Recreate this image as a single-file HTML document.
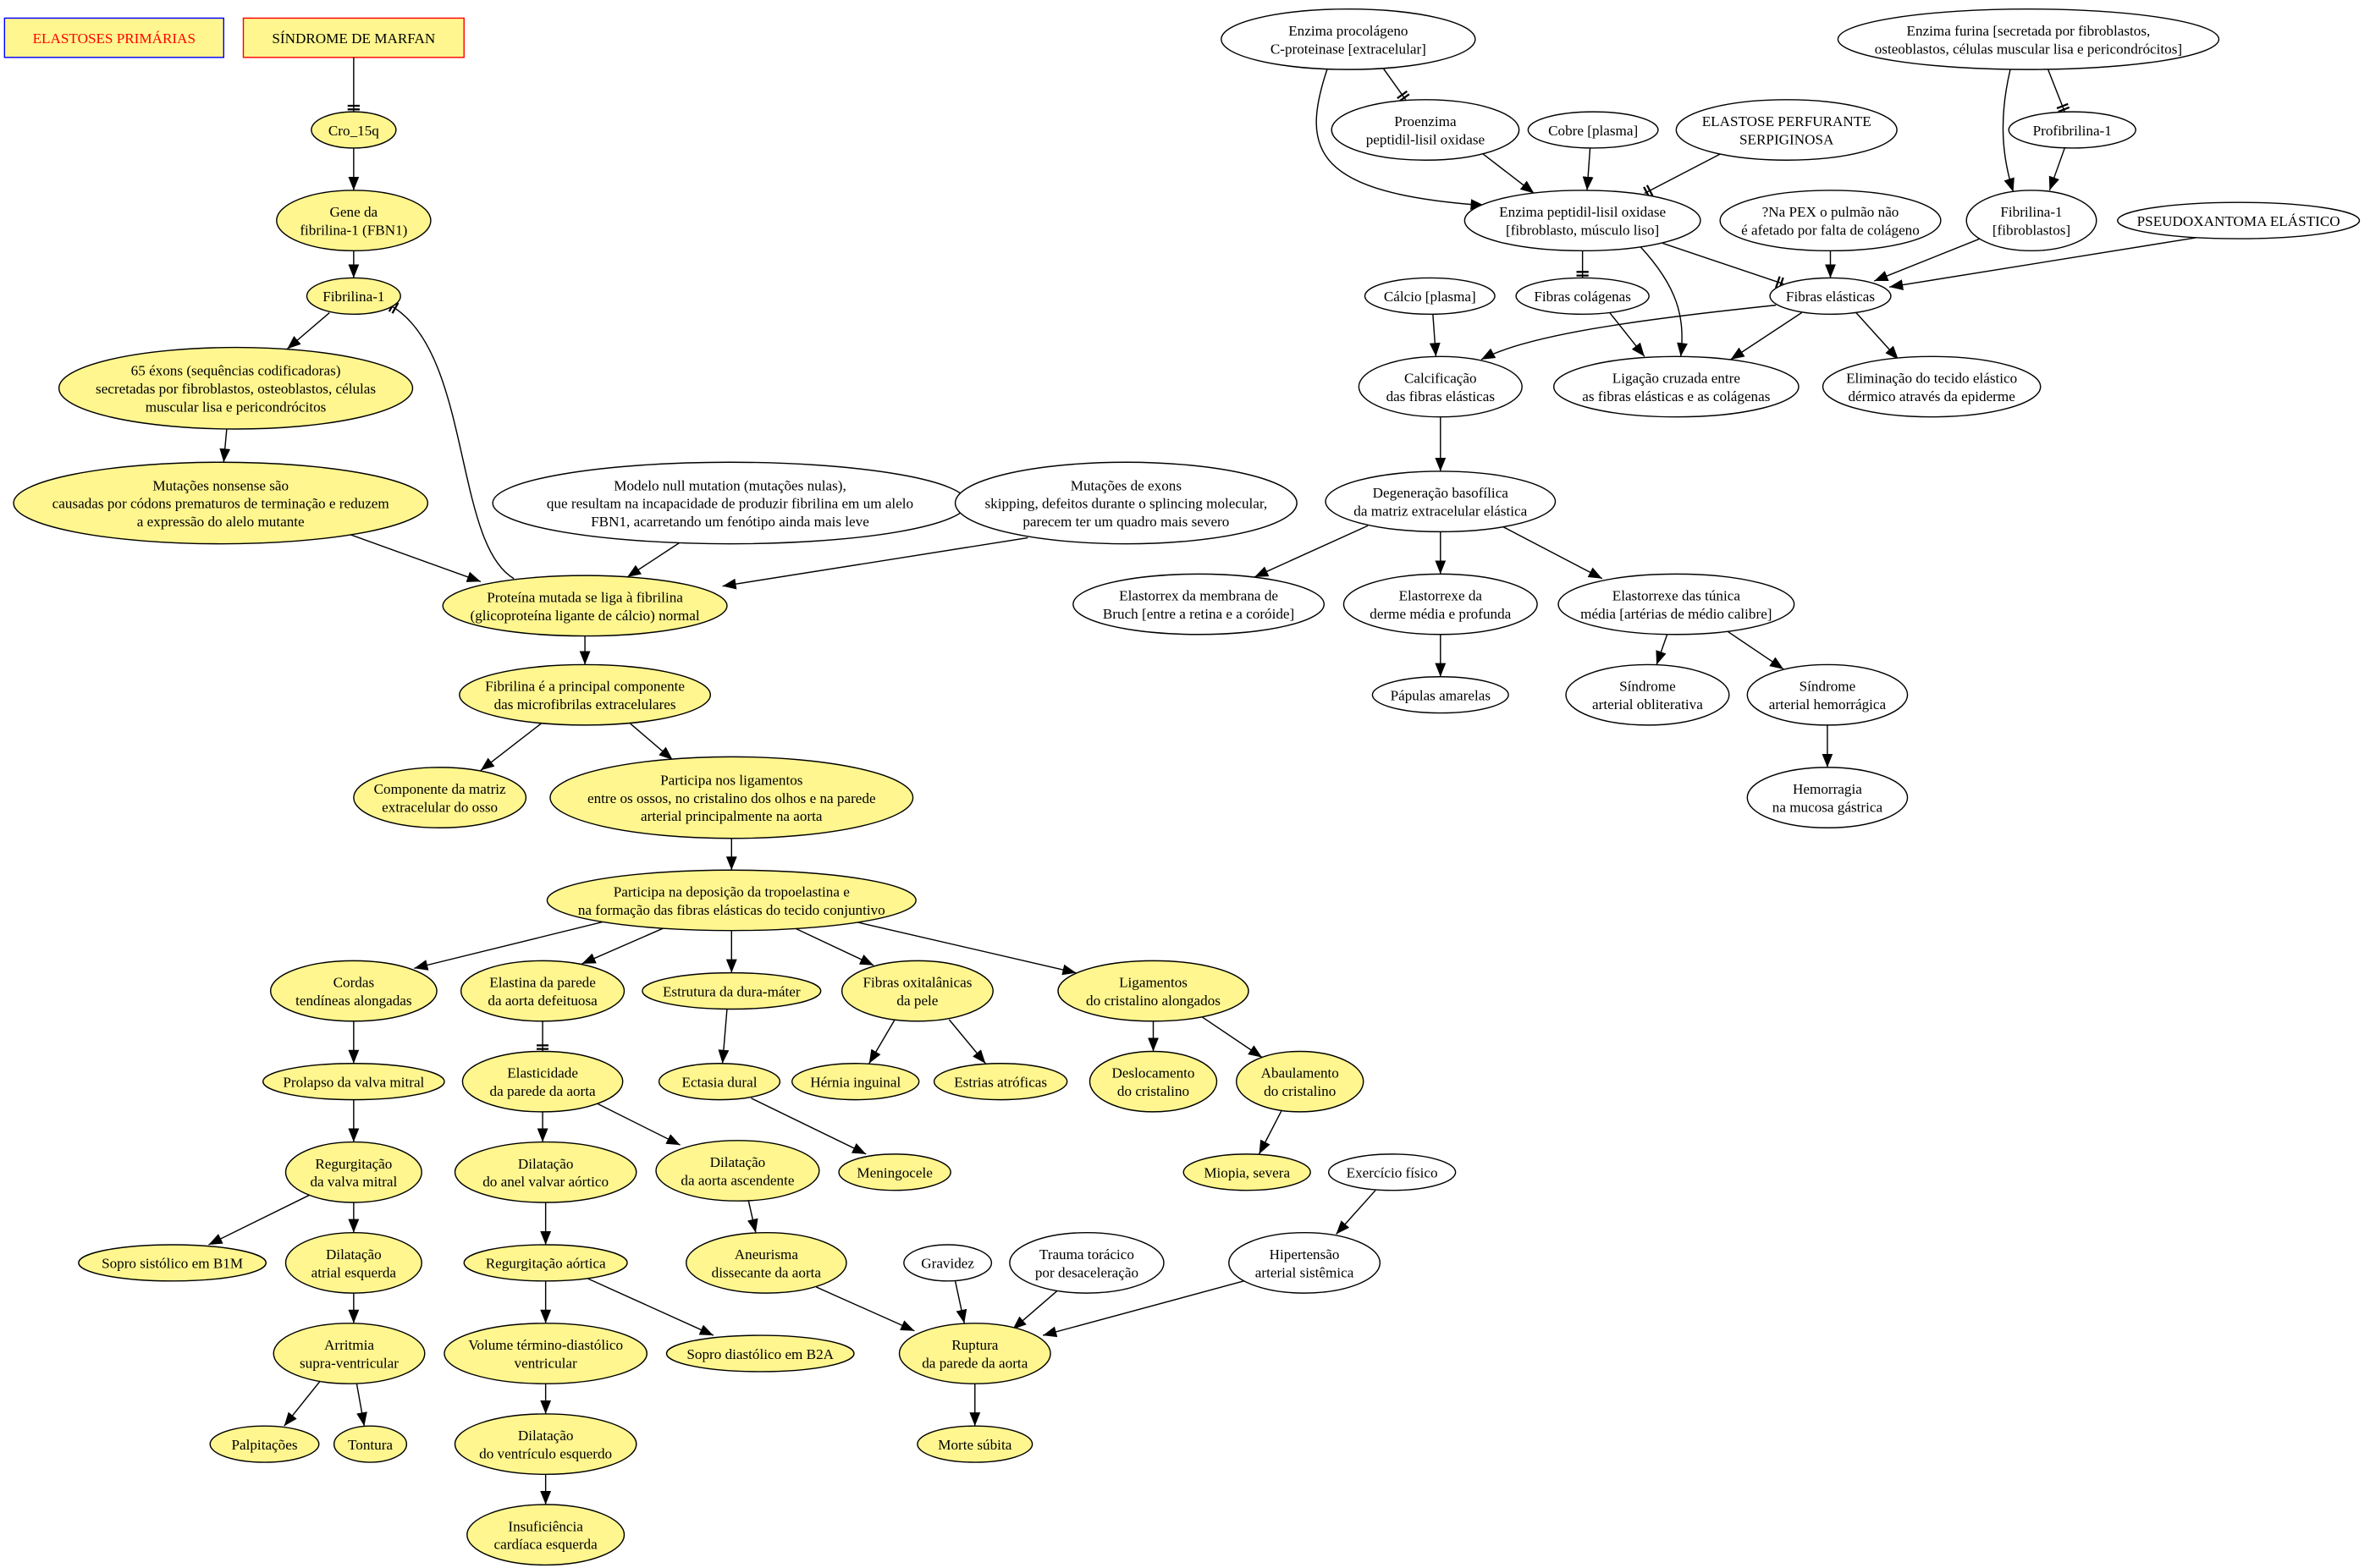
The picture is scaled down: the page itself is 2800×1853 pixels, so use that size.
<!DOCTYPE html>
<html><head><meta charset="utf-8"><style>
html,body{margin:0;padding:0;background:#fff;}
svg{display:block;}
text{font-family:"Liberation Serif",serif;font-size:9.6px;fill:#000;text-anchor:middle;}
.y{fill:#fff68f;stroke:#000;stroke-width:0.8;}
.w{fill:#fff;stroke:#000;stroke-width:0.8;}
.e{fill:none;stroke:#000;stroke-width:0.8;}
.a{marker-end:url(#arr);}
.t{marker-end:url(#tee);}
</style></head><body>
<svg width="2800" height="1853" viewBox="0 0 1568 1038" preserveAspectRatio="none" xmlns="http://www.w3.org/2000/svg">
<defs>
<marker id="arr" viewBox="0 0 10 10" refX="10" refY="5" markerWidth="9" markerHeight="9" markerUnits="userSpaceOnUse" orient="auto"><path d="M0,1 L10,5 L0,9 z" fill="#000"/></marker>
<marker id="tee" viewBox="0 0 10 10" refX="10" refY="5" markerWidth="8" markerHeight="8" markerUnits="userSpaceOnUse" orient="auto"><path d="M5,0 V10 M8,0 V10" stroke="#000" stroke-width="1.6" fill="none"/></marker>
</defs>

<rect x="3" y="12" width="145" height="26" fill="#fff68f" stroke="#0000ff" stroke-width="0.8"/>
<text x="75.5" y="28.5" style="fill:#ff0000">ELASTOSES PRIMÁRIAS</text>
<rect x="161" y="12" width="146" height="26" fill="#fff68f" stroke="#ff0000" stroke-width="0.8"/>
<text x="234" y="28.5">SÍNDROME DE MARFAN</text>

<g class="e">
<line class="t" x1="234" y1="38" x2="234" y2="74"/>
<line class="a" x1="234" y1="98" x2="234" y2="126"/>
<line class="a" x1="234" y1="166" x2="234" y2="184"/>
<line class="a" x1="218" y1="207" x2="190" y2="231"/>
<line class="a" x1="150" y1="284" x2="148" y2="306"/>
<line class="a" x1="232" y1="354" x2="318" y2="385"/>
<line class="a" x1="450" y1="359" x2="415" y2="382"/>
<line class="a" x1="680" y1="356" x2="478" y2="388"/>
<path class="t" d="M340,383 C300,360 312,232 258,202"/>
<line class="a" x1="387" y1="421" x2="387" y2="440"/>
<line class="a" x1="358" y1="479" x2="318" y2="510"/>
<line class="a" x1="417" y1="479" x2="445" y2="503"/>
<line class="a" x1="484" y1="555" x2="484" y2="576"/>
<line class="a" x1="400" y1="610" x2="274" y2="641"/>
<line class="a" x1="440" y1="614" x2="385" y2="638"/>
<line class="a" x1="484" y1="616" x2="484" y2="644"/>
<line class="a" x1="525" y1="614" x2="578" y2="639"/>
<line class="a" x1="565" y1="610" x2="712" y2="644"/>
<line class="a" x1="234" y1="676" x2="234" y2="704"/>
<line class="t" x1="359" y1="676" x2="359" y2="696"/>
<line class="a" x1="481" y1="668" x2="478" y2="704"/>
<line class="a" x1="592" y1="675" x2="575" y2="704"/>
<line class="a" x1="628" y1="675" x2="652" y2="704"/>
<line class="a" x1="763" y1="676" x2="763" y2="696"/>
<line class="a" x1="795" y1="673" x2="835" y2="700"/>
<line class="a" x1="234" y1="728" x2="234" y2="756"/>
<line class="a" x1="359" y1="736" x2="359" y2="756"/>
<line class="a" x1="394" y1="730" x2="450" y2="758"/>
<line class="a" x1="497" y1="727" x2="573" y2="764"/>
<line class="a" x1="848" y1="735" x2="833" y2="764"/>
<line class="a" x1="205" y1="791" x2="138" y2="824"/>
<line class="a" x1="234" y1="796" x2="234" y2="816"/>
<line class="a" x1="361" y1="796" x2="361" y2="824"/>
<line class="a" x1="495" y1="794" x2="500" y2="816"/>
<line class="a" x1="234" y1="856" x2="234" y2="876"/>
<line class="a" x1="361" y1="848" x2="361" y2="876"/>
<line class="a" x1="388" y1="846" x2="472" y2="884"/>
<line class="a" x1="540" y1="852" x2="605" y2="881"/>
<line class="a" x1="632" y1="848" x2="638" y2="876"/>
<line class="a" x1="700" y1="854" x2="670" y2="880"/>
<line class="a" x1="823" y1="848" x2="690" y2="884"/>
<line class="a" x1="910" y1="788" x2="884" y2="817"/>
<line class="a" x1="212" y1="914" x2="188" y2="944"/>
<line class="a" x1="236" y1="916" x2="241" y2="944"/>
<line class="a" x1="361" y1="916" x2="361" y2="936"/>
<line class="a" x1="645" y1="916" x2="645" y2="944"/>
<line class="a" x1="361" y1="976" x2="361" y2="996"/>

<line class="t" x1="915" y1="45" x2="930" y2="66"/>
<path class="a" d="M878,46 C860,100 870,128 982,136"/>
<line class="a" x1="980" y1="101" x2="1015" y2="128"/>
<line class="a" x1="1052" y1="98" x2="1050" y2="126"/>
<line class="t" x1="1138" y1="102" x2="1088" y2="128"/>
<line class="t" x1="1355" y1="46" x2="1366" y2="74"/>
<path class="a" d="M1330,46 C1322,80 1325,105 1332,127"/>
<line class="a" x1="1366" y1="98" x2="1356" y2="126"/>
<line class="t" x1="1047" y1="166" x2="1047" y2="184"/>
<line class="t" x1="1100" y1="161" x2="1180" y2="188"/>
<path class="a" d="M1085,163 C1110,190 1115,210 1112,236"/>
<line class="a" x1="1211" y1="166" x2="1211" y2="184"/>
<line class="a" x1="1310" y1="158" x2="1240" y2="186"/>
<line class="a" x1="1455" y1="157" x2="1250" y2="190"/>
<line class="a" x1="1065" y1="207" x2="1088" y2="236"/>
<path class="a" d="M1175,202 C1080,212 1010,222 980,238"/>
<line class="a" x1="1192" y1="207" x2="1145" y2="238"/>
<line class="a" x1="1228" y1="207" x2="1256" y2="238"/>
<line class="a" x1="948" y1="208" x2="950" y2="236"/>
<line class="a" x1="953" y1="276" x2="953" y2="312"/>
<line class="a" x1="905" y1="348" x2="830" y2="382"/>
<line class="a" x1="953" y1="352" x2="953" y2="380"/>
<line class="a" x1="993" y1="348" x2="1060" y2="383"/>
<line class="a" x1="953" y1="420" x2="953" y2="448"/>
<line class="a" x1="1103" y1="420" x2="1096" y2="440"/>
<line class="a" x1="1143" y1="418" x2="1180" y2="443"/>
<line class="a" x1="1209" y1="480" x2="1209" y2="508"/>
</g>

<ellipse class="y" cx="234" cy="86" rx="28" ry="12"/><text x="234" y="89.5">Cro_15q</text>
<ellipse class="y" cx="234" cy="146" rx="51" ry="20"/><text x="234" y="143.5">Gene da</text><text x="234" y="155.5">fibrilina-1 (FBN1)</text>
<ellipse class="y" cx="234" cy="196" rx="31" ry="12"/><text x="234" y="199.5">Fibrilina-1</text>
<ellipse class="y" cx="156" cy="257" rx="117" ry="27"/><text x="156" y="248.5">65 éxons (sequências codificadoras)</text><text x="156" y="260.5">secretadas por fibroblastos, osteoblastos, células</text><text x="156" y="272.5">muscular lisa e pericondrócitos</text>
<ellipse class="y" cx="146" cy="333" rx="137" ry="27"/><text x="146" y="324.5">Mutações nonsense são</text><text x="146" y="336.5">causadas por códons prematuros de terminação e reduzem</text><text x="146" y="348.5">a expressão do alelo mutante</text>
<ellipse class="y" cx="387" cy="401" rx="94" ry="20"/><text x="387" y="398.5">Proteína mutada se liga à fibrilina</text><text x="387" y="410.5">(glicoproteína ligante de cálcio) normal</text>
<ellipse class="y" cx="387" cy="460" rx="83" ry="20"/><text x="387" y="457.5">Fibrilina é a principal componente</text><text x="387" y="469.5">das microfibrilas extracelulares</text>
<ellipse class="y" cx="291" cy="528" rx="57" ry="20"/><text x="291" y="525.5">Componente da matriz</text><text x="291" y="537.5">extracelular do osso</text>
<ellipse class="y" cx="484" cy="528" rx="120" ry="27"/><text x="484" y="519.5">Participa nos ligamentos</text><text x="484" y="531.5">entre os ossos, no cristalino dos olhos e na parede</text><text x="484" y="543.5">arterial principalmente na aorta</text>
<ellipse class="y" cx="484" cy="596" rx="122" ry="20"/><text x="484" y="593.5">Participa na deposição da tropoelastina e</text><text x="484" y="605.5">na formação das fibras elásticas do tecido conjuntivo</text>
<ellipse class="y" cx="234" cy="656" rx="55" ry="20"/><text x="234" y="653.5">Cordas</text><text x="234" y="665.5">tendíneas alongadas</text>
<ellipse class="y" cx="359" cy="656" rx="54" ry="20"/><text x="359" y="653.5">Elastina da parede</text><text x="359" y="665.5">da aorta defeituosa</text>
<ellipse class="y" cx="484" cy="656" rx="59" ry="12"/><text x="484" y="659.5">Estrutura da dura-máter</text>
<ellipse class="y" cx="607" cy="656" rx="50" ry="20"/><text x="607" y="653.5">Fibras oxitalânicas</text><text x="607" y="665.5">da pele</text>
<ellipse class="y" cx="763" cy="656" rx="63" ry="20"/><text x="763" y="653.5">Ligamentos</text><text x="763" y="665.5">do cristalino alongados</text>
<ellipse class="y" cx="234" cy="716" rx="60" ry="12"/><text x="234" y="719.5">Prolapso da valva mitral</text>
<ellipse class="y" cx="359" cy="716" rx="53" ry="20"/><text x="359" y="713.5">Elasticidade</text><text x="359" y="725.5">da parede da aorta</text>
<ellipse class="y" cx="476" cy="716" rx="40" ry="12"/><text x="476" y="719.5">Ectasia dural</text>
<ellipse class="y" cx="566" cy="716" rx="42" ry="12"/><text x="566" y="719.5">Hérnia inguinal</text>
<ellipse class="y" cx="662" cy="716" rx="44" ry="12"/><text x="662" y="719.5">Estrias atróficas</text>
<ellipse class="y" cx="763" cy="716" rx="42" ry="20"/><text x="763" y="713.5">Deslocamento</text><text x="763" y="725.5">do cristalino</text>
<ellipse class="y" cx="860" cy="716" rx="42" ry="20"/><text x="860" y="713.5">Abaulamento</text><text x="860" y="725.5">do cristalino</text>
<ellipse class="y" cx="234" cy="776" rx="45" ry="20"/><text x="234" y="773.5">Regurgitação</text><text x="234" y="785.5">da valva mitral</text>
<ellipse class="y" cx="361" cy="776" rx="60" ry="20"/><text x="361" y="773.5">Dilatação</text><text x="361" y="785.5">do anel valvar aórtico</text>
<ellipse class="y" cx="488" cy="775" rx="54" ry="20"/><text x="488" y="772.5">Dilatação</text><text x="488" y="784.5">da aorta ascendente</text>
<ellipse class="y" cx="592" cy="776" rx="37" ry="12"/><text x="592" y="779.5">Meningocele</text>
<ellipse class="y" cx="825" cy="776" rx="42" ry="12"/><text x="825" y="779.5">Miopia, severa</text>
<ellipse class="y" cx="114" cy="836" rx="62" ry="12"/><text x="114" y="839.5">Sopro sistólico em B1M</text>
<ellipse class="y" cx="234" cy="836" rx="45" ry="20"/><text x="234" y="833.5">Dilatação</text><text x="234" y="845.5">atrial esquerda</text>
<ellipse class="y" cx="361" cy="836" rx="54" ry="12"/><text x="361" y="839.5">Regurgitação aórtica</text>
<ellipse class="y" cx="507" cy="836" rx="53" ry="20"/><text x="507" y="833.5">Aneurisma</text><text x="507" y="845.5">dissecante da aorta</text>
<ellipse class="y" cx="231" cy="896" rx="50" ry="20"/><text x="231" y="893.5">Arritmia</text><text x="231" y="905.5">supra-ventricular</text>
<ellipse class="y" cx="361" cy="896" rx="67" ry="20"/><text x="361" y="893.5">Volume término-diastólico</text><text x="361" y="905.5">ventricular</text>
<ellipse class="y" cx="503" cy="896" rx="62" ry="12"/><text x="503" y="899.5">Sopro diastólico em B2A</text>
<ellipse class="y" cx="645" cy="896" rx="50" ry="20"/><text x="645" y="893.5">Ruptura</text><text x="645" y="905.5">da parede da aorta</text>
<ellipse class="y" cx="175" cy="956" rx="36" ry="12"/><text x="175" y="959.5">Palpitações</text>
<ellipse class="y" cx="245" cy="956" rx="24" ry="12"/><text x="245" y="959.5">Tontura</text>
<ellipse class="y" cx="361" cy="956" rx="60" ry="20"/><text x="361" y="953.5">Dilatação</text><text x="361" y="965.5">do ventrículo esquerdo</text>
<ellipse class="y" cx="645" cy="956" rx="38" ry="12"/><text x="645" y="959.5">Morte súbita</text>
<ellipse class="y" cx="361" cy="1016" rx="52" ry="20"/><text x="361" y="1013.5">Insuficiência</text><text x="361" y="1025.5">cardíaca esquerda</text>

<ellipse class="w" cx="483" cy="333" rx="157" ry="27"/><text x="483" y="324.5">Modelo null mutation (mutações nulas),</text><text x="483" y="336.5">que resultam na incapacidade de produzir fibrilina em um alelo</text><text x="483" y="348.5">FBN1, acarretando um fenótipo ainda mais leve</text>
<ellipse class="w" cx="745" cy="333" rx="113" ry="27"/><text x="745" y="324.5">Mutações de exons</text><text x="745" y="336.5">skipping, defeitos durante o splincing molecular,</text><text x="745" y="348.5">parecem ter um quadro mais severo</text>
<ellipse class="w" cx="892" cy="26" rx="84" ry="20"/><text x="892" y="23.5">Enzima procolágeno</text><text x="892" y="35.5">C-proteinase [extracelular]</text>
<ellipse class="w" cx="1342" cy="26" rx="126" ry="20"/><text x="1342" y="23.5">Enzima furina [secretada por fibroblastos,</text><text x="1342" y="35.5">osteoblastos, células muscular lisa e pericondrócitos]</text>
<ellipse class="w" cx="943" cy="86" rx="62" ry="20"/><text x="943" y="83.5">Proenzima</text><text x="943" y="95.5">peptidil-lisil oxidase</text>
<ellipse class="w" cx="1054" cy="86" rx="43" ry="12"/><text x="1054" y="89.5">Cobre [plasma]</text>
<ellipse class="w" cx="1182" cy="86" rx="73" ry="20"/><text x="1182" y="83.5">ELASTOSE PERFURANTE</text><text x="1182" y="95.5">SERPIGINOSA</text>
<ellipse class="w" cx="1371" cy="86" rx="42" ry="12"/><text x="1371" y="89.5">Profibrilina-1</text>
<ellipse class="w" cx="1047" cy="146" rx="78" ry="20"/><text x="1047" y="143.5">Enzima peptidil-lisil oxidase</text><text x="1047" y="155.5">[fibroblasto, músculo liso]</text>
<ellipse class="w" cx="1211" cy="146" rx="73" ry="20"/><text x="1211" y="143.5">?Na PEX o pulmão não</text><text x="1211" y="155.5">é afetado por falta de colágeno</text>
<ellipse class="w" cx="1344" cy="146" rx="43" ry="20"/><text x="1344" y="143.5">Fibrilina-1</text><text x="1344" y="155.5">[fibroblastos]</text>
<ellipse class="w" cx="1481" cy="146" rx="80" ry="12"/><text x="1481" y="149.5">PSEUDOXANTOMA ELÁSTICO</text>
<ellipse class="w" cx="946" cy="196" rx="43" ry="12"/><text x="946" y="199.5">Cálcio [plasma]</text>
<ellipse class="w" cx="1047" cy="196" rx="44" ry="12"/><text x="1047" y="199.5">Fibras colágenas</text>
<ellipse class="w" cx="1211" cy="196" rx="40" ry="12"/><text x="1211" y="199.5">Fibras elásticas</text>
<ellipse class="w" cx="953" cy="256" rx="54" ry="20"/><text x="953" y="253.5">Calcificação</text><text x="953" y="265.5">das fibras elásticas</text>
<ellipse class="w" cx="1109" cy="256" rx="81" ry="20"/><text x="1109" y="253.5">Ligação cruzada entre</text><text x="1109" y="265.5">as fibras elásticas e as colágenas</text>
<ellipse class="w" cx="1278" cy="256" rx="72" ry="20"/><text x="1278" y="253.5">Eliminação do tecido elástico</text><text x="1278" y="265.5">dérmico através da epiderme</text>
<ellipse class="w" cx="953" cy="332" rx="76" ry="20"/><text x="953" y="329.5">Degeneração basofílica</text><text x="953" y="341.5">da matriz extracelular elástica</text>
<ellipse class="w" cx="793" cy="400" rx="83" ry="20"/><text x="793" y="397.5">Elastorrex da membrana de</text><text x="793" y="409.5">Bruch [entre a retina e a coróide]</text>
<ellipse class="w" cx="953" cy="400" rx="64" ry="20"/><text x="953" y="397.5">Elastorrexe da</text><text x="953" y="409.5">derme média e profunda</text>
<ellipse class="w" cx="1109" cy="400" rx="78" ry="20"/><text x="1109" y="397.5">Elastorrexe das túnica</text><text x="1109" y="409.5">média [artérias de médio calibre]</text>
<ellipse class="w" cx="953" cy="460" rx="45" ry="12"/><text x="953" y="463.5">Pápulas amarelas</text>
<ellipse class="w" cx="1090" cy="460" rx="54" ry="20"/><text x="1090" y="457.5">Síndrome</text><text x="1090" y="469.5">arterial obliterativa</text>
<ellipse class="w" cx="1209" cy="460" rx="53" ry="20"/><text x="1209" y="457.5">Síndrome</text><text x="1209" y="469.5">arterial hemorrágica</text>
<ellipse class="w" cx="1209" cy="528" rx="53" ry="20"/><text x="1209" y="525.5">Hemorragia</text><text x="1209" y="537.5">na mucosa gástrica</text>
<ellipse class="w" cx="921" cy="776" rx="42" ry="12"/><text x="921" y="779.5">Exercício físico</text>
<ellipse class="w" cx="627" cy="836" rx="29" ry="12"/><text x="627" y="839.5">Gravidez</text>
<ellipse class="w" cx="719" cy="836" rx="51" ry="20"/><text x="719" y="833.5">Trauma torácico</text><text x="719" y="845.5">por desaceleração</text>
<ellipse class="w" cx="863" cy="836" rx="50" ry="20"/><text x="863" y="833.5">Hipertensão</text><text x="863" y="845.5">arterial sistêmica</text>
</svg>
</body></html>
